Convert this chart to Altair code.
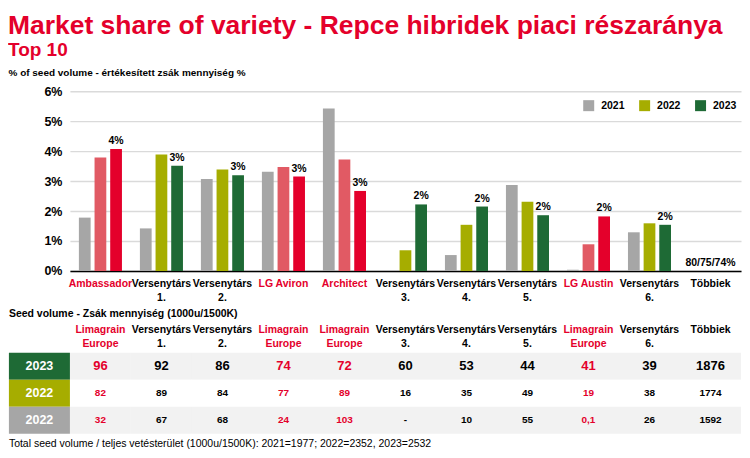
import json
import altair as alt
import pandas as pd

# ---------------- data ----------------
categories = ["Ambassador", "Versenytárs\n1.", "Versenytárs\n2.", "LG Aviron", "Architect",
              "Versenytárs\n3.", "Versenytárs\n4.", "Versenytárs\n5.", "LG Austin",
              "Versenytárs\n6.", "Többiek"]
is_limagrain = [True, False, False, True, True, False, False, False, True, False, False]
years = ["2021", "2022", "2023"]
share_2021 = [1.78, 1.42, 3.07, 3.31, 5.42, None, 0.53, 2.87, 0.04, 1.29, None]
share_2022 = [3.79, 3.89, 3.39, 3.47, 3.72, 0.69, 1.54, 2.31, 0.89, 1.59, None]
share_2023 = [4.07, 3.51, 3.19, 3.15, 2.67, 2.22, 2.15, 1.86, 1.82, 1.54, None]
labels_2023 = ["4%", "3%", "3%", "3%", "3%", "2%", "2%", "2%", "2%", "2%", None]
others_category = "Többiek"
others_label = "80/75/74%"

table_headers = ["Limagrain\nEurope", "Versenytárs\n1.", "Versenytárs\n2.", "Limagrain\nEurope",
                 "Limagrain\nEurope", "Versenytárs\n3.", "Versenytárs\n4.", "Versenytárs\n5.",
                 "Limagrain\nEurope", "Versenytárs\n6.", "Többiek"]
row_names = ["2023", "2022", "2022"]
volume_2023 = ["96", "92", "86", "74", "72", "60", "53", "44", "41", "39", "1876"]
volume_2022 = ["82", "89", "84", "77", "89", "16", "35", "49", "19", "38", "1774"]
volume_2021 = ["32", "67", "68", "24", "103", "-", "10", "55", "0,1", "26", "1592"]

title_text = "Market share of variety - Repce hibridek piaci részaránya"
subtitle_text = "Top 10"
y_title = "% of seed volume - értékesített zsák mennyiség %"
table_title = "Seed volume - Zsák mennyiség (1000u/1500K)"
footer_text = "Total seed volume / teljes vetésterület (1000u/1500K): 2021=1977; 2022=2352, 2023=2532"

# ---------------- style ----------------
RED = "#E4002B"
PINK = "#E15A64"
GRAY = "#A6A6A6"
OLIVE = "#A6AD00"
GREEN = "#1E6A35"
ROW_BG = ["#F2F2F2", "#FFFFFF", "#F2F2F2"]
ROW_LABEL_BG = [GREEN, OLIVE, GRAY]
FONT = "Liberation Sans"
PLOT_W = 672
PLOT_H = 180
STEP = PLOT_W / len(categories)
ROW_H = 27

# ---------------- bar chart ----------------
bar_rows = []
for i, cat in enumerate(categories):
    for yr, vals in zip(years, [share_2021, share_2022, share_2023]):
        v = vals[i]
        if v is None:
            continue
        key = yr + ("L" if (is_limagrain[i] and yr != "2021") else "")
        bar_rows.append({"cat": cat, "year": yr, "value": v, "ckey": key})
bars_df = pd.DataFrame(bar_rows)

lab_df = pd.DataFrame([{"cat": c, "year": "2023", "value": v, "label": l}
                       for c, v, l in zip(categories, share_2023, labels_2023) if l is not None])
others_df = pd.DataFrame([{"cat": others_category, "value": 0, "label": others_label}])

lg_names = [c for c, f in zip(categories, is_limagrain) if f]
lg_test = "indexof(" + json.dumps(lg_names, ensure_ascii=False) + ", datum.value) >= 0"

x_axis = alt.Axis(title=None, labelAngle=0, labelExpr="split(datum.label, '\\n')",
                  labelColor={"condition": {"test": lg_test, "value": RED}, "value": "black"},
                  labelFontSize=10.5, labelFontWeight="bold", labelLineHeight=13.5,
                  labelPadding=8, ticks=False, tickSize=0, domainColor="black",
                  domainWidth=1.6, labelOverlap=False, labelLimit=0, grid=False)
y_axis = alt.Axis(title=y_title, tickCount=6, labelOverlap=False,
                  labelExpr="datum.value + '%'",
                  labelFontSize=12.5, labelFontWeight="bold", labelColor="black",
                  labelPadding=8, domain=False, ticks=False, gridColor="#DADADA",
                  gridWidth=1.4, titleAngle=0, titleAlign="left", titleX=-62,
                  titleY=-16, titleBaseline="alphabetic", titleFontSize=10,
                  titleFontWeight="bold", titleColor="black")
x_scale = alt.Scale(domain=categories, paddingInner=0.23, paddingOuter=0.115)
y_scale = alt.Scale(domain=[0, 6], nice=False)
x_enc = alt.X("cat:N", sort=categories, scale=x_scale, axis=x_axis)
y_enc = alt.Y("value:Q", scale=y_scale, axis=y_axis)
xo_enc = alt.XOffset("year:N", scale=alt.Scale(domain=years, paddingInner=0.25, paddingOuter=0.125))

bars = alt.Chart(bars_df).mark_bar().encode(
    x=x_enc, xOffset=xo_enc, y=y_enc,
    color=alt.Color("ckey:N",
                    scale=alt.Scale(domain=["2021", "2022", "2023", "2022L", "2023L"],
                                    range=[GRAY, OLIVE, GREEN, PINK, RED]),
                    legend=alt.Legend(orient="none", legendX=514, legendY=9, direction="horizontal",
                                      title=None, values=years, symbolType="square", symbolSize=121,
                                      symbolStrokeWidth=0, labelFontSize=10.5, labelFontWeight="bold",
                                      labelOffset=7, columnPadding=14, padding=0, labelColor="black")))

labels = alt.Chart(lab_df).mark_text(fontSize=10.5, fontWeight="bold", baseline="alphabetic",
                                     dy=-5, color="black").encode(
    x=x_enc, xOffset=xo_enc, y=y_enc, text="label:N")

others = alt.Chart(others_df).mark_text(fontSize=10.5, fontWeight="bold", baseline="alphabetic",
                                        dy=-5, color="black").encode(
    x=x_enc, y=y_enc, text="label:N")

top = alt.layer(bars, labels, others).properties(width=PLOT_W, height=PLOT_H)

# ---------------- table ----------------
volumes = [volume_2023, volume_2022, volume_2021]
cells = []
for r in range(3):
    for c in range(11):
        cells.append({"col": c, "row": r, "fill": ROW_BG[r], "text": volumes[r][c],
                      "tcolor": RED if is_limagrain[c] else "#000000",
                      "fs": 13 if r == 0 else 10})
cells_df = pd.DataFrame(cells)
row_df = pd.DataFrame([{"col": 0, "row": r, "fill": ROW_LABEL_BG[r], "text": row_names[r]}
                       for r in range(3)])
footer_df = pd.DataFrame([{"col": 0, "row": 2, "text": footer_text}])

headers_js = json.dumps(table_headers, ensure_ascii=False)
lg_cols = [i for i, f in enumerate(is_limagrain) if f]
col_test = "indexof(" + json.dumps(lg_cols) + ", datum.value) >= 0"

t_axis = alt.Axis(orient="top", title=None, labelAngle=0,
                  labelExpr=f"split({headers_js}[datum.value], '\\n')",
                  labelColor={"condition": {"test": col_test, "value": RED}, "value": "black"},
                  labelFontSize=10.5, labelFontWeight="bold", labelLineHeight=13.5,
                  labelPadding=18, domain=False, ticks=False, tickSize=0,
                  labelOverlap=False, labelLimit=0, grid=False)
t_xscale = alt.Scale(domain=list(range(11)), paddingInner=0, paddingOuter=0)
t_yscale = alt.Scale(domain=[0, 1, 2], paddingInner=0, paddingOuter=0)
tx = alt.X("col:O", scale=t_xscale, axis=t_axis)
ty = alt.Y("row:O", scale=t_yscale, axis=None)

rects = alt.Chart(cells_df).mark_rect().encode(x=tx, y=ty, fill=alt.Fill("fill:N", scale=None))
texts = alt.Chart(cells_df).mark_text(fontWeight="bold").encode(
    x=tx, y=ty, text="text:N",
    color=alt.Color("tcolor:N", scale=None), size=alt.Size("fs:Q", scale=None))
# year cells sit one column to the left of the first variety column (under the y axis)
row_rects = alt.Chart(row_df).mark_rect(xOffset=-STEP).encode(
    x=tx, y=ty, fill=alt.Fill("fill:N", scale=None))
row_texts = alt.Chart(row_df).mark_text(fontWeight="bold", fontSize=12.5, color="#FFFFFF",
                                        dx=-STEP).encode(x=tx, y=ty, text="text:N")
footer = alt.Chart(footer_df).mark_text(align="left", dx=-STEP, dy=24, fontSize=10.5,
                                        color="black").encode(
    x=alt.X("col:O", scale=t_xscale, axis=t_axis, bandPosition=0), y=ty, text="text:N")

table = alt.layer(rects, texts, row_rects, row_texts, footer).properties(
    width=PLOT_W, height=3 * ROW_H,
    title=alt.TitleParams(table_title, anchor="start", frame="bounds", fontSize=10.5,
                          fontWeight="bold", color="black", offset=5))

chart = alt.concat(top, table, columns=1, spacing=6).properties(
    padding={"top": 4, "left": 0, "right": 0, "bottom": 0},
    title=alt.TitleParams(title_text, subtitle=subtitle_text, anchor="start", color=RED,
                          fontSize=26.5, font=FONT, fontWeight="bold", subtitleColor=RED,
                          subtitleFontSize=19, subtitleFont=FONT, subtitleFontWeight="bold",
                          subtitlePadding=2, offset=7)
).resolve_scale(color="independent").configure(font=FONT).configure_view(stroke=None)

chart.save("out.html", embed_options={"renderer": "svg", "actions": False})
